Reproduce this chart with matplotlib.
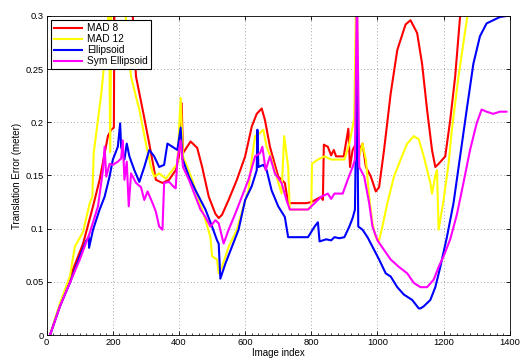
import numpy as np
import matplotlib
matplotlib.use('Agg')
import matplotlib.pyplot as plt
from matplotlib.ticker import MultipleLocator

# values (image index, translation error in meters)
mad8_x = [10, 50, 75, 110, 140, 160, 185, 195, 203, 205, 215, 255, 270, 290, 310, 325, 330, 350,
          370, 390, 400, 408, 412, 435, 455, 470, 490, 510, 520, 530, 550, 575, 600, 620,
          635, 650, 660, 675, 700, 720, 730, 750, 785, 800, 830, 835, 838, 850, 860, 868,
          875, 898, 912, 917, 925, 935, 945, 955, 965, 980, 995, 1005, 1020, 1040, 1060,
          1085, 1100, 1120, 1135, 1150, 1165, 1175, 1185, 1205, 1220, 1235, 1250, 1270]
mad8_y = [0.0, 0.037, 0.058, 0.086, 0.121, 0.146, 0.187, 0.193, 0.195, 0.33, 0.33, 0.33, 0.243,
          0.212, 0.18, 0.155, 0.146, 0.143, 0.146, 0.155, 0.168, 0.218, 0.171, 0.182, 0.176,
          0.158, 0.13, 0.114, 0.11, 0.113, 0.127, 0.146, 0.168, 0.196, 0.208, 0.213, 0.202,
          0.177, 0.149, 0.143, 0.124, 0.124, 0.124, 0.125, 0.13, 0.127, 0.179, 0.177, 0.169,
          0.174, 0.168, 0.168, 0.194, 0.158, 0.174, 0.18, 0.174, 0.18, 0.158, 0.149, 0.135,
          0.139, 0.174, 0.227, 0.268, 0.292, 0.296, 0.284, 0.255, 0.212, 0.174, 0.158, 0.161,
          0.168, 0.202, 0.243, 0.3, 0.34]

mad12_x = [10, 40, 70, 85, 110, 130, 138, 142, 165, 175, 185, 188, 192, 196, 230, 255, 270, 280,
           300, 315, 325, 340, 360, 380, 395, 405, 412, 425, 440, 460, 480, 495, 500, 515,
           520, 530, 550, 575, 595, 610, 620, 630, 645, 655, 665, 680, 695, 710, 718, 730,
           735, 760, 790, 800, 802, 820, 840, 860, 900, 915, 930, 936, 938, 942, 945, 955,
           965, 975, 985, 995, 1005, 1015, 1030, 1050, 1070, 1090, 1110, 1125, 1140, 1160,
           1165, 1175, 1180, 1185, 1200, 1215, 1225, 1245, 1270, 1290]
mad12_y = [0.0, 0.03, 0.055, 0.083, 0.097, 0.124, 0.13, 0.171, 0.227, 0.259, 0.293, 0.33, 0.172,
           0.33, 0.33, 0.243, 0.224, 0.212, 0.18, 0.158, 0.149, 0.152, 0.147, 0.155, 0.161,
           0.223, 0.168, 0.158, 0.146, 0.127, 0.108, 0.092, 0.074, 0.071, 0.058, 0.064,
           0.083, 0.099, 0.121, 0.136, 0.165, 0.187, 0.19, 0.193, 0.177, 0.165, 0.149, 0.133,
           0.187, 0.158, 0.118, 0.118, 0.118, 0.121, 0.161, 0.165, 0.168, 0.165, 0.165, 0.18,
           0.204, 0.33, 0.33, 0.168, 0.168, 0.18, 0.165, 0.13, 0.105, 0.092, 0.089, 0.102,
           0.124, 0.149, 0.165, 0.18, 0.187, 0.184, 0.168, 0.143, 0.133, 0.15, 0.155, 0.099,
           0.127, 0.161, 0.193, 0.243, 0.296, 0.34]

ell_x = [10, 40, 70, 100, 120, 127, 128, 140, 160, 175, 190, 200, 215, 222, 225, 235, 242, 250,
         265, 280, 295, 310, 325, 340, 355, 365, 380, 395, 405, 410, 430, 450, 470, 480, 500,
         515, 520, 525, 540, 560, 580, 600, 620, 635, 637, 640, 655, 665, 680, 700, 720, 730,
         760, 790, 810, 820, 825, 845, 860, 870, 885, 900, 915, 925, 932, 938, 942, 955,
         970, 990, 1005, 1025, 1040, 1060, 1080, 1105, 1125, 1130, 1140, 1160, 1175, 1190,
         1210, 1230, 1250, 1270, 1290, 1310, 1330, 1350, 1370, 1390]
ell_y = [0.0, 0.027, 0.049, 0.074, 0.089, 0.092, 0.082, 0.099, 0.118, 0.13, 0.149, 0.165, 0.177,
         0.199, 0.177, 0.165, 0.18, 0.168, 0.155, 0.144, 0.158, 0.174, 0.168, 0.158, 0.16,
         0.18, 0.177, 0.174, 0.195, 0.166, 0.149, 0.136, 0.124, 0.118, 0.102, 0.089, 0.086,
         0.053, 0.067, 0.083, 0.099, 0.127, 0.14, 0.155, 0.193, 0.158, 0.16, 0.155, 0.136,
         0.121, 0.111, 0.092, 0.092, 0.092, 0.102, 0.106, 0.088, 0.09, 0.089, 0.092, 0.091,
         0.092, 0.102, 0.11, 0.118, 0.259, 0.102, 0.099, 0.092, 0.08, 0.071, 0.058, 0.055,
         0.045, 0.038, 0.033, 0.025, 0.025, 0.027, 0.033, 0.045, 0.064, 0.092, 0.124, 0.168,
         0.212, 0.255, 0.281, 0.293, 0.296, 0.299, 0.3]

sym_x = [10, 40, 70, 100, 130, 155, 170, 175, 180, 190, 200, 215, 225, 230, 235, 242, 248, 255,
         270, 285, 295, 305, 320, 330, 340, 350, 355, 370, 385, 390, 395, 405, 412, 430, 450,
         465, 480, 495, 510, 520, 535, 550, 570, 590, 610, 630, 645, 652, 662, 675, 690,
         710, 725, 735, 760, 790, 810, 830, 850, 860, 870, 895, 910, 925, 932, 938, 945,
         960, 975, 985, 1000, 1020, 1040, 1065, 1090, 1110, 1130, 1150, 1170, 1185, 1200,
         1220, 1240, 1260, 1280, 1300, 1315, 1330, 1350, 1370, 1390]
sym_y = [0.0, 0.027, 0.049, 0.071, 0.096, 0.121, 0.155, 0.177, 0.149, 0.161, 0.16, 0.163, 0.166,
         0.183, 0.146, 0.163, 0.121, 0.152, 0.143, 0.139, 0.127, 0.135, 0.124, 0.116, 0.102,
         0.099, 0.143, 0.144, 0.139, 0.138, 0.165, 0.183, 0.158, 0.146, 0.13, 0.118, 0.111,
         0.102, 0.108, 0.105, 0.086, 0.099, 0.114, 0.13, 0.146, 0.168, 0.171, 0.177, 0.155,
         0.168, 0.152, 0.143, 0.127, 0.118, 0.118, 0.118, 0.124, 0.13, 0.133, 0.128, 0.133,
         0.133, 0.146, 0.158, 0.165, 0.33, 0.158, 0.149, 0.124, 0.102, 0.089, 0.08, 0.071,
         0.064, 0.058, 0.049, 0.045, 0.045, 0.052, 0.064, 0.074, 0.09, 0.113, 0.143, 0.174,
         0.199, 0.212, 0.21, 0.208, 0.21, 0.21]

plt.rcParams['font.family'] = 'Liberation Sans'
plt.rcParams['font.size'] = 7

fig = plt.figure(figsize=(5.22, 3.6), dpi=100)
ax = fig.add_axes([0.0895, 0.0694, 0.887, 0.8862])

ax.plot(mad8_x, mad8_y, color='#ff0000', lw=1.5, label='MAD 8')
ax.plot(mad12_x, mad12_y, color='#ffff00', lw=1.5, label='MAD 12')
ax.plot(ell_x, ell_y, color='#0000ff', lw=1.5, label='Ellipsoid')
ax.plot(sym_x, sym_y, color='#ff00ff', lw=1.5, label='Sym Ellipsoid')

ax.set_xlim(0, 1400)
ax.set_ylim(0, 0.3)
ax.set_xticks(np.arange(0, 1401, 200))
ax.set_yticks([0, 0.05, 0.1, 0.15, 0.2, 0.25, 0.3])
ax.set_yticklabels(['0', '0.05', '0.1', '0.15', '0.2', '0.25', '0.3'])
ax.xaxis.set_minor_locator(MultipleLocator(20))
ax.tick_params(which='major', direction='in', length=3, width=0.6, top=True, right=True,
               pad=2, labelsize=6.7)
ax.tick_params(which='minor', direction='in', length=1.5, width=0.5)
ax.grid(True, which='major', color='#888888', linestyle=(0, (1, 3)), linewidth=0.6)
for s in ax.spines.values():
    s.set_linewidth(0.6)

ax.set_xlabel('Image index', labelpad=1)
ax.set_ylabel('Translation Error (meter)', labelpad=3)

leg = ax.legend(loc='upper left', fancybox=False, edgecolor='black', framealpha=1,
                borderpad=0.3, labelspacing=0.1, handlelength=2.8, handletextpad=0.5,
                borderaxespad=0.4, fontsize=7.3)
leg.get_frame().set_linewidth(0.8)

fig.savefig('out.png', dpi=100)
